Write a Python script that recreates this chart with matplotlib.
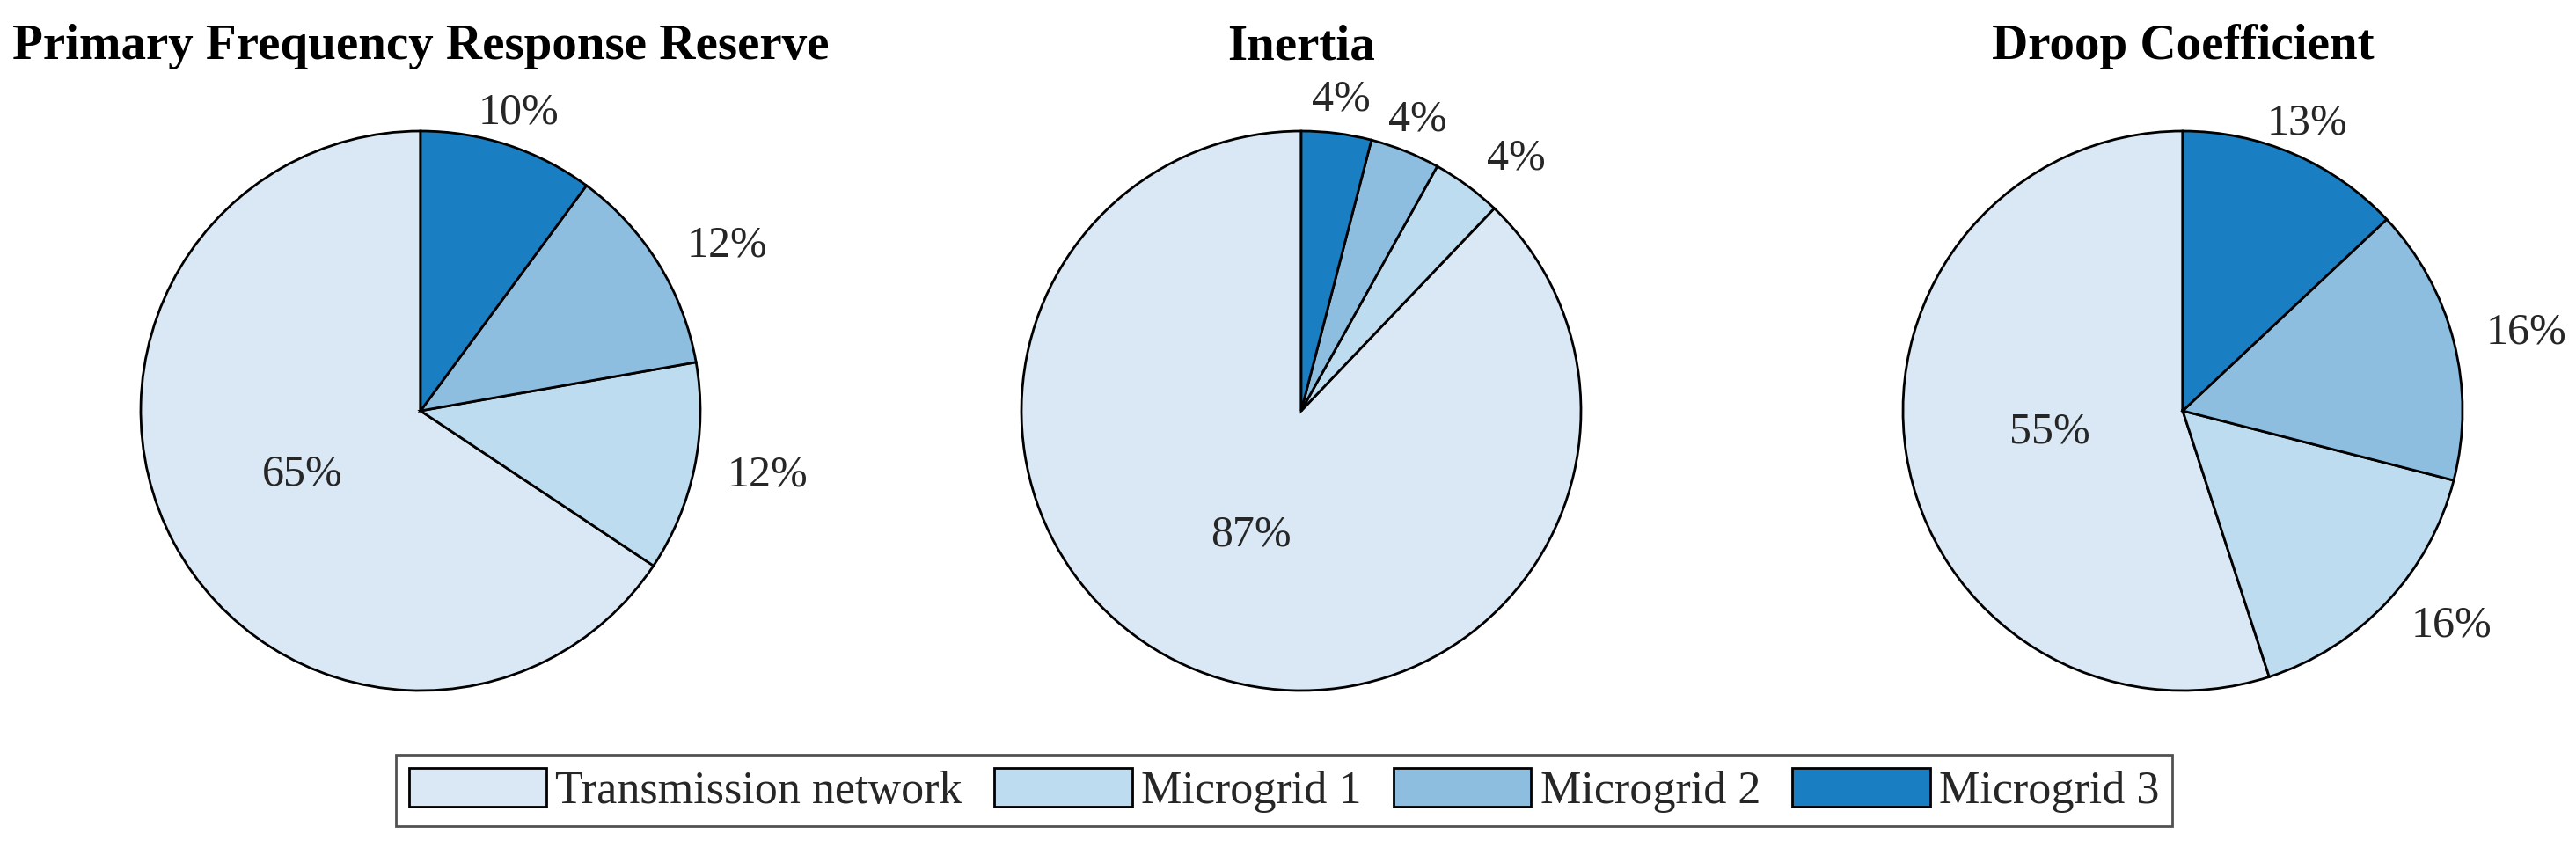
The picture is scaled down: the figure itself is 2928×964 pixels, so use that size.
import numpy as np
import matplotlib
matplotlib.use("Agg")
import matplotlib.pyplot as plt

plt.rcParams["font.family"] = ["Liberation Serif", "DejaVu Serif"]

# Data
series = ["Transmission network", "Microgrid 1", "Microgrid 2", "Microgrid 3"]
titles = ["Primary Frequency Response Reserve", "Inertia", "Droop Coefficient"]
reserve = [65, 12, 12, 10]
inertia = [87, 4, 4, 4]
droop = [55, 16, 16, 13]
colors = ["#D9E8F4", "#BEDCEF", "#8DBEE0", "#1A7EC2"]

W, H = 2928, 964
fig = plt.figure(figsize=(W / 100, H / 100), dpi=100)

# pie centres (pixels) and radius
centres_x = [478, 1479, 2481]
centre_y = 467
rad = 318
box = 2.2 * rad

text_col = "#262626"
wedges_all = None
for i, vals in enumerate([reserve, inertia, droop]):
    left = (centres_x[i] - box / 2) / W
    bottom = (H - centre_y - box / 2) / H
    ax = fig.add_axes([left, bottom, box / W, box / H])
    wedges, _ = ax.pie(vals, colors=colors, startangle=90, counterclock=True,
                       wedgeprops=dict(edgecolor="black", linewidth=2))
    ax.set_xlim(-1.1, 1.1)
    ax.set_ylim(-1.1, 1.1)
    ax.set_aspect("equal")
    tot = sum(vals)
    for w, v in zip(wedges, vals):
        mid = np.deg2rad((w.theta1 + w.theta2) / 2)
        cx, cy = np.cos(mid), np.sin(mid)
        if v / tot > 0.5:
            # big slice: label inside
            ax.text(0.48 * cx, 0.48 * cy, f"{v}%", ha="center", va="center",
                    fontsize=36, color=text_col)
        else:
            if abs(cx) < 0.45:
                ha = "center"
            else:
                ha = "left" if cx > 0 else "right"
            ax.text(1.12 * cx, 1.12 * cy, f"{v}%", ha=ha, va="center",
                    fontsize=36, color=text_col)
    ax.set_title(titles[i], fontsize=41, fontweight="bold", pad=36)
    if wedges_all is None:
        wedges_all = wedges

leg = fig.legend(wedges_all, series, loc="center", ncol=4,
                 bbox_to_anchor=(0.4985, 0.068), fontsize=37.5,
                 frameon=True, fancybox=False, borderpad=0.28,
                 handlelength=3.0, handleheight=0.93, handletextpad=0.2,
                 columnspacing=0.7, labelcolor=text_col)
leg.get_frame().set_edgecolor(text_col)
leg.get_frame().set_linewidth(2)

fig.savefig("out.png", dpi=100)
